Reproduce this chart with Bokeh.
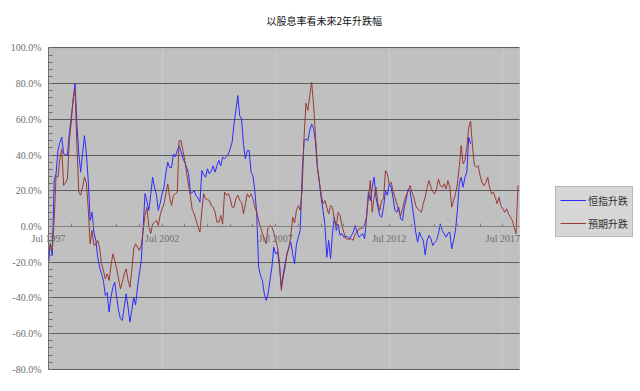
from bokeh.plotting import figure
from bokeh.models import Range1d, FixedTicker, Legend, LegendItem, BoxAnnotation
from bokeh.embed import file_html
from bokeh.resources import INLINE

# ---------------- data ----------------
title_text = "以股息率看未來2年升跌幅"
series_names = ["恒指升跌", "預期升跌"]

# x = months since Jul 1997 (monthly data)
x_label_months = [0, 60, 120, 180, 240]
x_label_texts = ["Jul 1997", "Jul 2002", "Jul 2007", "Jul 2012", "Jul 2017"]
x_tick_months = list(range(0, 241, 12))
x_last_month = 248.8

y_ticks = [-80, -60, -40, -20, 0, 20, 40, 60, 80, 100]
y_tick_labels = ["-80.0%", "-60.0%", "-40.0%", "-20.0%", "0.0%",
                 "20.0%", "40.0%", "60.0%", "80.0%", "100.0%"]

# 恒指升跌 (%), monthly from Jul 1997
hsi_change = [
    -21, -9.5, -16, 25.7, 29.6, 42.5, 47, 50, 40.8, 40,
    40, 52, 61, 70.5, 80.2, 57.6, 40.8, 30.4, 40.8, 50.9,
    40.8, 25.7, 3.4, 8, -3.2, -7.8, -17.2, -22.8, -26.5, -30.2,
    -38.6, -37, -47.9, -39.5, -34, -31.2, -39.5, -47, -51.6, -52.6,
    -45, -37.7, -45, -53.5, -47, -39.5, -44, -34, -26.5, -19,
    -0.4, 18.4, 14, 9, 18, 27.6, 22, 18, 9, 13,
    18.3, 22, 30, 36, 33, 33, 40.6, 39, 42.5, 45.3,
    42, 38, 36, 33, 29.5, 18.4, 19, 20, 17, 16,
    13.6, 31.3, 29, 27.6, 32.3, 29.5, 31, 34, 30.4, 34,
    37, 34, 38.8, 38, 39, 40.6, 43.5, 47.2, 57.4, 65,
    73.3, 62, 60.2, 46, 38, 42.5, 42.5, 30.4, 28.5, 20,
    7, -22.8, -27.4, -30.2, -37.7, -41.4, -37.7, -30.2, -22.8, -11.6,
    -15.3, -14, -22, -34, -26.5, -20.9, -15.3, -11.6, -8.8, -15.3,
    -20.9, -9.7, -6, -2.2, 29.5, 48, 49, 48, 53.7, 57.4,
    55, 48, 33.2, 25.7, 16.4, 9, 1.5, -17.2, -7.8, -18,
    -4, 5.2, -2.2, 1.3, -5, -4, -6, -5.5, -5.8, -6.8,
    -5, -3.2, 0.6, -3.2, -6, -5, -4, -6.8, 5.2, 19.2,
    14.5, 22, 27.6, 16.4, 10.8, 6.2, 5.2, 10.8, 20, 17.5,
    23.9, 22, 16.4, 9, 8, 10.8, 4.3, 3.4, 10.8, 15.5,
    21, 20, 12.7, 5.2, -3.2, -8.8, -3.2, -6, -7.8, -16,
    -7.8, -5, -6.8, -10.6, -9, -7.8, -4, 1.5, -2.2, -4,
    -6, -3.8, -3.2, -12.5, -7.8, -2.2, 9, 23.9, 27.6, 22,
    27.6, 30.4, 50, 46.3,
]

# 預期升跌 (%), monthly from Jul 1997
expected_change = [
    -15.3, -9.7, -13.4, 3.4, 28.5, 27.6, 37.9, 43.5, 23, 24.6,
    26.6, 48, 58, 71.4, 77, 45, 19.2, 17.5, 22, 27.6,
    24.6, 10, -9.7, -2.2, -10.6, -10, -7.8, -12, -20.9, -24.6,
    -29.3, -26.5, -30.2, -22, -15.3, -19, -23.7, -29.3, -34.9, -31.2,
    -26.5, -23.7, -30, -34, -24.6, -12.5, -9.7, -11.6, -13.4, -10.6,
    -2.2, 6.2, 10.8, -0.4, -4, 1.3, 2.4, 3.4, 0.6, 6.2,
    9.9, 12.7, 18.3, 23.9, 16.4, 11.7, 17.5, 18.3, 19.2, 48,
    48, 42.5, 37, 29.5, 23, 16.4, 9, 7.1, 3.4, -0.4,
    -3.2, 9, 18.3, 15.5, 15, 14.6, 11.7, 10.8, 8, 2.4,
    2.4, 6.2, 1.3, 19.2, 17.5, 18.3, 15.5, 10.8, 10.8, 15.5,
    17.5, 14.6, 13.6, 7.1, 12.7, 18.3, 16.4, 18.3, 15.5, 10.8,
    8, 3.4, -0.4, -4, -6.8, -9.7, -0.4, 0.6, -0.4, -3.2,
    -7.8, -11.6, -20, -35.8, -28.3, -22.8, -15.3, -12, -5, 5.2,
    2, 9, 11.7, 9, 21, 50, 69, 65, 73.3, 80.7,
    68.6, 51.9, 34.1, 25.7, 18.3, 12.7, 14.6, 10.8, 7, 11.7,
    10.8, 4, -0.4, 8, 6.2, 0.6, -3.2, -6.8, -7, -7.2,
    -6.8, -7.8, -4, -3.2, -1.3, -1, -1, 1.1, 5.2, 16.4,
    25.7, 8, 16.4, 22, 13, 9, 14.6, 15.5, 31.3, 29.5,
    23.9, 24.8, 20, 16.4, 12.7, 9, 6.2, 9.9, 14.6, 17.5,
    20, 22.9, 19.2, 16.4, 11.7, 9.9, 9, 8, 13, 16.4,
    22, 25.7, 22, 19.2, 18.3, 21, 26.6, 22.9, 22, 23.9,
    21, 25.7, 22, 10.8, 14.6, 18.3, 23.9, 33.2, 45.3, 35.1,
    37, 44.4, 55.5, 59, 44.4, 34.1, 33.2, 34.1, 28.5, 24.6,
    22.9, 24.6, 27.6, 22, 18.3, 19.2, 16.4, 12.7, 16.4, 11.7,
    9.9, 8, 9.9, 7.1, 5.2, 3.4, -0.4, -4, 23,
]

hsi_months = list(range(len(hsi_change)))
expected_months = list(range(len(expected_change)))

y_min, y_max = y_ticks[0], y_ticks[-1]

# ---------------- figure ----------------
# The frame covers the whole canvas below the title; the grey plot area is a
# box in data space so that axis labels at the fixed axes are not clipped.
PX_PER_MONTH = 1.893
PX_PER_PCT = 1.786
FRAME_W, FRAME_TOP, FRAME_H = 640, 30, 361
AREA_LEFT, ZERO_Y = 48, 226
x_start = -AREA_LEFT / PX_PER_MONTH
x_end = (FRAME_W - AREA_LEFT) / PX_PER_MONTH
y_end = (ZERO_Y - FRAME_TOP) / PX_PER_PCT
y_start = (ZERO_Y - (FRAME_TOP + FRAME_H)) / PX_PER_PCT

p = figure(width=640, height=391, output_backend="svg", toolbar_location=None,
           x_range=Range1d(x_start, x_end), y_range=Range1d(y_start, y_end),
           min_border_left=0, min_border_right=0,
           min_border_top=FRAME_TOP, min_border_bottom=0)

p.background_fill_color = "white"
p.border_fill_color = "white"
p.outline_line_color = None

# grey plot area
area = BoxAnnotation(left=0, right=x_last_month, bottom=y_min, top=y_max,
                     fill_color="#C0C0C0", fill_alpha=1.0,
                     line_color="#8A8A8A", line_width=1, level="image")
p.add_layout(area)

# title
p.title.text = title_text
p.title.align = "left"
p.title.offset = 266
p.title.standoff = 5
p.title.text_font = "Noto Sans CJK TC"
p.title.text_font_size = "10px"
p.title.text_font_style = "normal"
p.title.text_color = "#111111"

# lines
r_hsi = p.line(hsi_months, hsi_change, line_color="#2B2BFF", line_width=1)
r_exp = p.line(expected_months, expected_change, line_color="#983A34", line_width=1)

# y axis, fixed at x = 0
yax = p.yaxis[0]
yax.fixed_location = 0
yax.bounds = (y_min, y_max)
yax.ticker = FixedTicker(ticks=y_ticks, minor_ticks=list(range(y_min, y_max + 1, 4)))
yax.major_label_overrides = {t: s for t, s in zip(y_ticks, y_tick_labels)}
yax.axis_line_color = "#6E6E6E"
yax.major_tick_line_color = "#6E6E6E"
yax.minor_tick_line_color = "#6E6E6E"
yax.major_tick_in = 4
yax.major_tick_out = 0
yax.minor_tick_in = 4
yax.minor_tick_out = 0
yax.major_label_standoff = 7
yax.major_label_text_font = "Liberation Serif"
yax.major_label_text_font_size = "10px"
yax.major_label_text_color = "#6E6E6E"

# x axis, fixed at y = 0
xax = p.xaxis[0]
xax.fixed_location = 0
xax.bounds = (0, x_last_month)
xax.ticker = FixedTicker(ticks=x_tick_months)
overrides = {t: "" for t in x_tick_months}
for t, s in zip(x_label_months, x_label_texts):
    overrides[t] = s
xax.major_label_overrides = overrides
xax.axis_line_color = "#808080"
xax.major_tick_line_color = "#808080"
xax.major_tick_in = 3
xax.major_tick_out = 0
xax.minor_tick_line_color = None
xax.major_label_standoff = 6
xax.major_label_text_font = "Liberation Serif"
xax.major_label_text_font_size = "10px"
xax.major_label_text_color = "#6E6E6E"

# grids limited to the plot area
p.xgrid[0].ticker = FixedTicker(ticks=x_label_months[1:])
p.xgrid[0].grid_line_color = "#B9CDE5"
p.xgrid[0].cross_bounds = (y_min, y_max)
p.ygrid[0].ticker = FixedTicker(ticks=y_ticks)
p.ygrid[0].grid_line_color = "#5E5E5E"
p.ygrid[0].cross_bounds = (0, x_last_month)

# legend right of the plot area (screen px from frame left / bottom)
legend = Legend(
    items=[LegendItem(label=series_names[0], renderers=[r_hsi]),
           LegendItem(label=series_names[1], renderers=[r_exp])],
    location=(555, 154), margin=0, padding=4, spacing=5,
    glyph_width=26, glyph_height=18, label_height=18, label_width=39,
    label_standoff=2,
    label_text_font="Noto Sans CJK TC", label_text_font_size="10px",
    label_text_color="#333333",
    background_fill_color="#D6D6D6", background_fill_alpha=1.0,
    border_line_color="#9A9A9A", border_line_width=1,
)
p.add_layout(legend)

open("out.html", "w").write(file_html(p, INLINE))
